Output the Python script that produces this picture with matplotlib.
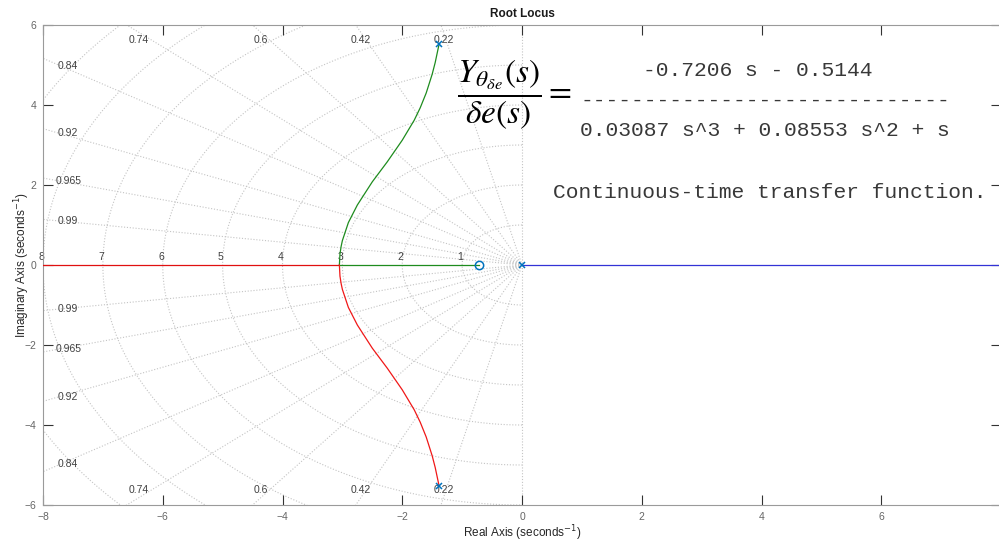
import numpy as np
import matplotlib
matplotlib.use('Agg')
import matplotlib.pyplot as plt

# ---------------- data ----------------
poles_re = [0.0, -1.385, -1.385]
poles_im = [0.0, 5.52, -5.52]
zeros_re = [-0.7139]
zeros_im = [0.0]

# complex branch leaving the upper pole (green)
upper_re = [-1.385, -1.45, -1.50, -1.60, -1.70, -1.80, -2.00, -2.25, -2.50,
            -2.75, -2.90, -3.00, -3.02, -3.04, -3.05]
upper_im = [5.52, 5.06, 4.77, 4.30, 3.93, 3.62, 3.12, 2.58, 2.08,
            1.50, 1.06, 0.61, 0.47, 0.28, 0.0]
# complex branch leaving the lower pole (red)
lower_re = [-1.385, -1.45, -1.50, -1.60, -1.70, -1.80, -2.00, -2.25, -2.50,
            -2.75, -2.90, -3.00, -3.02, -3.04, -3.05]
lower_im = [-5.52, -5.06, -4.77, -4.30, -3.93, -3.62, -3.12, -2.58, -2.08,
            -1.50, -1.06, -0.61, -0.47, -0.28, 0.0]
# real-axis segments
green_axis_re = [-3.05, -0.7139]
red_axis_re = [-3.05, -12.0]
blue_axis_re = [0.0, 12.0]

zeta_values = [0.22, 0.42, 0.6, 0.74, 0.84, 0.92, 0.965, 0.99]
zeta_labels = ['0.22', '0.42', '0.6', '0.74', '0.84', '0.92', '0.965', '0.99']
wn_values = [1, 2, 3, 4, 5, 6, 7, 8, 9, 10]
wn_labels = ['1', '2', '3', '4', '5', '6', '7', '8']

xticks = [-8, -6, -4, -2, 0, 2, 4, 6, 8]
yticks = [-6, -4, -2, 0, 2, 4, 6]
xlim = (-8, 8)
ylim = (-6, 6)

num_text = '-0.7206 s - 0.5144'
den_text = '0.03087 s^3 + 0.08553 s^2 + s'
dash_text = '-' * 29
tf_text = 'Continuous-time transfer function.'

# ---------------- figure ----------------
W, H = 999, 545
fig = plt.figure(figsize=(W / 100, H / 100), dpi=100)
ax = fig.add_axes([43 / W, 40 / H, 958 / W, 480 / H])

grid_kw = dict(color='#c4c4c4', lw=0.8, ls=(0, (1, 1.6)), zorder=1)
# damping lines
for z in zeta_values:
    s = np.sqrt(1 - z ** 2)
    ax.plot([0, -20 * z], [0, 20 * s], **grid_kw)
    ax.plot([0, -20 * z], [0, -20 * s], **grid_kw)
ax.plot([0, 0], [-20, 20], **grid_kw)
# natural frequency arcs
th = np.linspace(np.pi / 2, 3 * np.pi / 2, 400)
for wn in wn_values:
    ax.plot(wn * np.cos(th), wn * np.sin(th), **grid_kw)

lab_kw = dict(fontsize=7.5, color='#404040', family='Liberation Sans', zorder=2)
# damping labels
for z, lab in zip(zeta_values, zeta_labels):
    s = np.sqrt(1 - z ** 2)
    yprobe = 7.72 * s / z
    if yprobe < 5.62:
        for sg in (1, -1):
            ax.text(-7.58, sg * yprobe, lab, ha='center', va='center', **lab_kw)
    else:
        xt = -5.82 * z / s
        for sg in (1, -1):
            ax.text(xt, sg * 5.63, lab, ha='center', va='center', **lab_kw)
# natural frequency labels
for wn, lab in zip(wn_values, wn_labels):
    ax.text(-wn + 0.02, 0.2, lab, ha='right', va='center', **lab_kw)

# locus
ax.plot(blue_axis_re, [0, 0], color='#3333d6', lw=0.9, zorder=3)
ax.plot(red_axis_re, [0, 0], color='#e01010', lw=0.9, zorder=3)
ax.plot(green_axis_re, [0, 0], color='#1e8c1e', lw=0.9, zorder=3)
ax.plot(upper_re, upper_im, color='#1e8c1e', lw=0.9, zorder=3)
ax.plot(lower_re, lower_im, color='#f01818', lw=0.9, zorder=3)
ax.plot(poles_re, poles_im, ls='none', marker='x', ms=5, mew=1.1,
        color='#0072BD', zorder=4)
ax.plot(zeros_re, zeros_im, ls='none', marker='o', ms=6, mew=1.1,
        mfc='none', mec='#0072BD', zorder=4)

ax.set_xlim(*xlim)
ax.set_ylim(*ylim)
ax.set_xticks(xticks)
ax.set_yticks(yticks)
ax.tick_params(direction='in', length=7, width=0.8, top=True, right=True,
               color='#333333', labelcolor='#666666', labelsize=7.5, pad=5)
for lab in ax.get_xticklabels() + ax.get_yticklabels():
    lab.set_family('Liberation Sans')
for sp in ax.spines.values():
    sp.set_color('#9a9a9a')
    sp.set_linewidth(0.8)

ax.set_title('Root Locus', fontsize=8.5, fontweight='bold', family='Liberation Sans',
             color='#1a1a1a', pad=5.5)
ax.set_xlabel('Real Axis (seconds$^{-1}$)', fontsize=8.5, family='Liberation Sans',
              color='#262626')
ax.set_ylabel('Imaginary Axis (seconds$^{-1}$)', fontsize=8.5, family='Liberation Sans',
              color='#262626')
ax.xaxis.set_label_coords(0.5, (505 - 523) / 480)
ax.yaxis.set_label_coords((32 - 43) / 958, 0.5)

# equation overlay
fig.text(457 / W, 1 - 94 / H, r'$\dfrac{Y_{\theta_{\delta e}}(s)}{\delta e(s)}=$',
         fontsize=24, math_fontfamily='stix', ha='left', va='center', color='black')
mono = dict(family='Liberation Mono', fontsize=15.3, color='#383838')
fig.text(758 / W, 1 - 70 / H, num_text, ha='center', va='center', **mono)
fig.text(580 / W, 1 - 100 / H, dash_text, ha='left', va='center', **mono)
fig.text(580 / W, 1 - 130 / H, den_text, ha='left', va='center', **mono)
fig.text(553 / W, 1 - 192 / H, tf_text, ha='left', va='center', **mono)

fig.savefig('out.png', dpi=100)
